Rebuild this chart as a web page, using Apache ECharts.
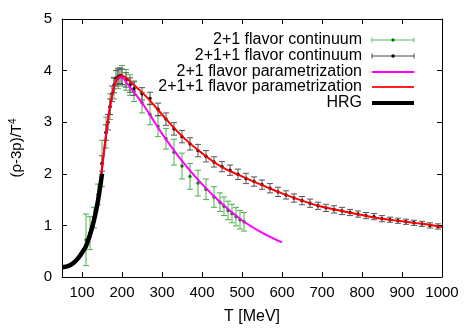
<!DOCTYPE html>
<html><head><meta charset="utf-8">
<script src="https://cdn.jsdelivr.net/npm/echarts@6/dist/echarts.min.js"></script>
<style>html,body{margin:0;padding:0;background:#fff}#c{width:471px;height:330px}</style>
</head><body><div id="c"></div>
<script>
// 2+1 flavor continuum (T, value, error)
const tGreen = [110,120,130,140,150,160,170,180,190,200,210,220,230,250,270,290,310,330,350,370,390,410,430,445,455,465,475,485,495,505];
const yGreen = [0.72,0.85,1.15,1.6,2.2,2.8,3.3,3.65,3.85,3.9,3.82,3.72,3.6,3.38,3.15,2.92,2.68,2.42,2.15,1.95,1.82,1.7,1.55,1.45,1.37,1.29,1.23,1.17,1.11,1.07];
const eGreen = [0.5,0.32,0.2,0.2,0.45,0.3,0.25,0.2,0.2,0.2,0.2,0.2,0.2,0.2,0.2,0.2,0.2,0.25,0.25,0.25,0.25,0.2,0.2,0.18,0.18,0.18,0.18,0.18,0.18,0.18];
// 2+1+1 flavor continuum
const tBlack = [150,160,165,170,175,180,185,190,195,200,210,220,230,250,270,290,310,330,350,370,390,410,430,450,470,490,510,530,550,570,590,610,630,650,670,690,710,730,750,770,790,810,830,850,870,890,910,930,950,970,990];
const yBlack = [2.2,2.8,3.0,3.3,3.55,3.72,3.85,3.88,3.9,3.88,3.82,3.72,3.65,3.55,3.46,3.25,3.06,2.87,2.72,2.58,2.45,2.34,2.23,2.14,2.07,1.99,1.91,1.85,1.79,1.72,1.65,1.59,1.53,1.48,1.43,1.38,1.34,1.31,1.28,1.25,1.22,1.19,1.17,1.13,1.11,1.09,1.07,1.05,1.03,1.0,0.98];
const eBlack = [0.15,0.15,0.15,0.15,0.15,0.15,0.15,0.15,0.15,0.15,0.14,0.14,0.13,0.12,0.12,0.12,0.12,0.12,0.12,0.12,0.12,0.11,0.1,0.1,0.1,0.1,0.1,0.09,0.09,0.09,0.09,0.08,0.08,0.08,0.08,0.07,0.07,0.07,0.07,0.06,0.06,0.06,0.06,0.06,0.05,0.05,0.05,0.05,0.05,0.05,0.05];
// 2+1 flavor parametrization
const tMag = [120,130,140,150,160,170,180,190,200,210,220,240,260,280,300,350,400,450,500,550,600];
const yMag = [0.75,1.05,1.5,2.1,2.75,3.3,3.68,3.86,3.86,3.78,3.68,3.48,3.26,3.02,2.78,2.25,1.8,1.42,1.1,0.86,0.67];
// 2+1+1 flavor parametrization
const tRed = [120,130,140,150,160,170,180,190,200,210,220,240,260,280,300,350,400,450,500,550,600,650,700,750,800,850,900,950,1000];
const yRed = [0.75,1.05,1.5,2.1,2.75,3.3,3.68,3.87,3.9,3.86,3.79,3.65,3.5,3.33,3.15,2.73,2.4,2.13,1.95,1.78,1.62,1.48,1.36,1.28,1.2,1.13,1.08,1.03,0.97];
// HRG
const tHrg = [50,60,70,80,90,100,110,120,130,140,150];
const yHrg = [0.19,0.2,0.23,0.28,0.36,0.47,0.6,0.82,1.1,1.48,2.0];
// ticks
const xTicks = [100,200,300,400,500,600,700,800,900,1000];
const legendNames = ['2+1 flavor continuum','2+1+1 flavor continuum','2+1 flavor parametrization','2+1+1 flavor parametrization','HRG'];

const FONT = 'Liberation Sans';
const FS = 15;
const LFS = 16;
const chart = echarts.init(document.getElementById('c'), null, {renderer:'canvas'});

function errRender(barColor, dotColor){
  return function(params, api){
    const x = api.value(0), y = api.value(1), e = api.value(2);
    const p = api.coord([x, y]);
    const hi = api.coord([x, y + e]);
    const lo = api.coord([x, y - e]);
    const c = 3;
    return {type:'group', children:[
      {type:'line', shape:{x1:p[0], y1:hi[1], x2:p[0], y2:lo[1]}, style:{stroke:barColor, lineWidth:1}},
      {type:'line', shape:{x1:p[0]-c, y1:hi[1], x2:p[0]+c, y2:hi[1]}, style:{stroke:barColor, lineWidth:1}},
      {type:'line', shape:{x1:p[0]-c, y1:lo[1], x2:p[0]+c, y2:lo[1]}, style:{stroke:barColor, lineWidth:1}},
      {type:'circle', shape:{cx:p[0], cy:p[1], r:1.7}, style:{fill:dotColor}}
    ]};
  };
}

const axisLineStyle = {color:'#000', width:1};
const xAxisBase = {type:'value', min:50, max:1000, splitLine:{show:false}};

const legendRowsY = [40,56,72,87,103];
const lgText = 362, lgX1 = 372, lgX2 = 414;
const graphics = [];
legendNames.forEach((n,i)=>{
  graphics.push({type:'text', x:lgText, y:legendRowsY[i], style:{text:n, font:LFS+'px "Liberation Sans"', fill:'#000', align:'right', verticalAlign:'middle'}});
});
function lgErr(y, bar, dot){
  graphics.push({type:'line', shape:{x1:lgX1,y1:y,x2:lgX2,y2:y}, style:{stroke:bar, lineWidth:1}});
  graphics.push({type:'line', shape:{x1:lgX1,y1:y-2.5,x2:lgX1,y2:y+2.5}, style:{stroke:bar, lineWidth:1}});
  graphics.push({type:'line', shape:{x1:lgX2,y1:y-2.5,x2:lgX2,y2:y+2.5}, style:{stroke:bar, lineWidth:1}});
  graphics.push({type:'circle', shape:{cx:(lgX1+lgX2)/2, cy:y, r:1.7}, style:{fill:dot}});
}
lgErr(legendRowsY[0], '#5cb85c', '#008000');
lgErr(legendRowsY[1], '#444', '#000');
graphics.push({type:'line', shape:{x1:lgX1,y1:legendRowsY[2],x2:lgX2,y2:legendRowsY[2]}, style:{stroke:'#ff00ff', lineWidth:2}});
graphics.push({type:'line', shape:{x1:lgX1,y1:legendRowsY[3],x2:lgX2,y2:legendRowsY[3]}, style:{stroke:'#ff2020', lineWidth:2}});
graphics.push({type:'line', shape:{x1:lgX1,y1:legendRowsY[4],x2:lgX2,y2:legendRowsY[4]}, style:{stroke:'#000', lineWidth:4}});

const option = {
  animation:false,
  backgroundColor:'#fff',
  grid:{left:58, right:29, top:19, bottom:51},
  xAxis:[
    Object.assign({}, xAxisBase, {
      position:'bottom',
      name:'T [MeV]', nameLocation:'middle', nameGap:32,
      nameTextStyle:{fontFamily:FONT, fontSize:LFS, color:'#000'},
      axisLine:{show:true, onZero:false, lineStyle:axisLineStyle},
      axisTick:{show:true, inside:true, length:5, lineStyle:{color:'#000'}, customValues:xTicks},
      axisLabel:{show:true, margin:8, fontFamily:FONT, fontSize:FS, color:'#000', customValues:xTicks, formatter:v=>String(v)}
    }),
    Object.assign({}, xAxisBase, {
      position:'top',
      axisLine:{show:true, onZero:false, lineStyle:axisLineStyle},
      axisTick:{show:true, inside:true, length:5, lineStyle:{color:'#000'}, customValues:xTicks},
      axisLabel:{show:false}
    })
  ],
  yAxis:[
    {type:'value', min:0, max:5, interval:1, position:'left',
     name:'(ρ-3p)/T{sup|4}', nameLocation:'middle', nameGap:36,
     nameTextStyle:{fontFamily:FONT, fontSize:FS, color:'#000', rich:{sup:{fontFamily:FONT, fontSize:10, color:'#000', verticalAlign:'top', padding:[0,0,8,0]}}},
     splitLine:{show:false},
     axisLine:{show:true, onZero:false, lineStyle:axisLineStyle},
     axisTick:{show:true, inside:true, length:5, lineStyle:{color:'#000'}},
     axisLabel:{show:true, margin:10, fontFamily:FONT, fontSize:FS, color:'#000'}},
    {type:'value', min:0, max:5, interval:1, position:'right',
     splitLine:{show:false},
     axisLine:{show:true, onZero:false, lineStyle:axisLineStyle},
     axisTick:{show:true, inside:true, length:5, lineStyle:{color:'#000'}},
     axisLabel:{show:false}}
  ],
  graphic:graphics,
  series:[
    {name:legendNames[0], type:'custom', renderItem:errRender('#4cae4c','#008000'), clip:true,
     encode:{x:0, y:1}, data:tGreen.map((t,i)=>[t, yGreen[i], eGreen[i]]), z:2},
    {name:legendNames[1], type:'custom', renderItem:errRender('#555','#000'), clip:true,
     encode:{x:0, y:1}, data:tBlack.map((t,i)=>[t, yBlack[i], eBlack[i]]), z:2},
    {name:legendNames[2], type:'line', showSymbol:false, smooth:0.4, clip:true,
     lineStyle:{color:'#ff00ff', width:2}, data:tMag.map((t,i)=>[t, yMag[i]]), z:3},
    {name:legendNames[3], type:'line', showSymbol:false, smooth:0.4, clip:true,
     lineStyle:{color:'#ff0000', width:2}, data:tRed.map((t,i)=>[t, yRed[i]]), z:4},
    {name:legendNames[4], type:'line', showSymbol:false, smooth:0.4, clip:true,
     lineStyle:{color:'#000', width:4.5}, data:tHrg.map((t,i)=>[t, yHrg[i]]), z:5}
  ]
};
chart.setOption(option);
</script></body></html>
